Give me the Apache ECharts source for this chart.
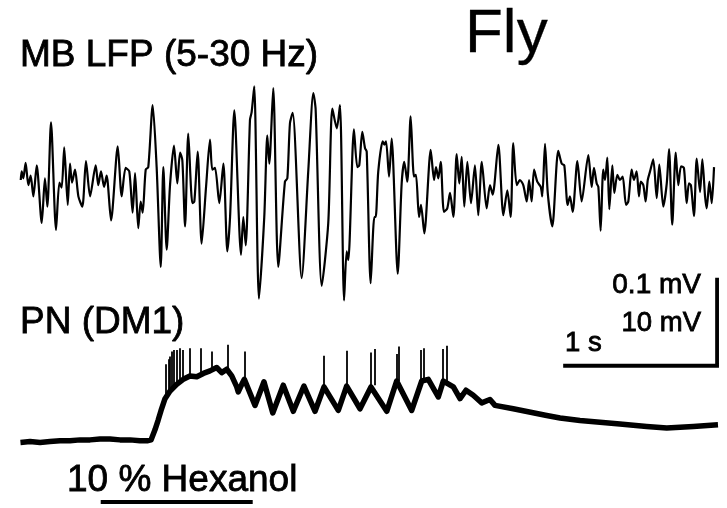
<!DOCTYPE html>
<html>
<head>
<meta charset="utf-8">
<script src="https://cdn.jsdelivr.net/npm/echarts@6/dist/echarts.min.js"></script>
<style>
  html, body { margin: 0; padding: 0; background: #fff; }
  #chart { width: 727px; height: 508px; }
</style>
</head>
<body>
<div id="chart"></div>
<script>
// MB local field potential (5-30 Hz band), time in s, amplitude in µV
const lfpTime = [
  0.005,0.011,0.022,0.037,0.055,0.070,0.088,0.110,0.143,0.164,
  0.180,0.204,0.237,0.259,0.274,0.291,0.314,0.329,0.342,0.362,
  0.384,0.410,0.434,0.461,0.498,0.515,0.533,0.553,0.570,0.599,
  0.643,0.669,0.695,0.719,0.741,0.757,0.778,0.794,0.807,0.827,
  0.844,0.873,0.899,0.926,0.943,0.965,0.987,1.013,1.035,1.053,
  1.068,1.086,1.107,1.134,1.147,1.169,1.195,1.224,1.250,1.265,
  1.283,1.311,1.338,1.364,1.382,1.410,1.454,1.469,1.485,1.513,
  1.524,1.541,1.572,1.607,1.627,1.640,1.666,1.699,1.743,1.759,
  1.776,1.794,1.853,1.897,1.930,1.945,1.985,2.028,2.055,2.084,
  2.105,2.132,2.149,2.160,2.197,2.219,2.232,2.252,2.270,2.281,
  2.307,2.331,2.340,2.357,2.386,2.397,2.408,2.428,2.445,2.485,
  2.511,2.528,2.548,2.570,2.592,2.605,2.625,2.638,2.660,2.702,
  2.724,2.737,2.752,2.768,2.789,2.811,2.829,2.851,2.873,2.890,
  2.906,2.923,2.943,2.967,2.993,3.015,3.038,3.070,3.092,3.110,
  3.147,3.180,3.206,3.228,3.245,3.268,3.289,3.311,3.334,3.349,
  3.366,3.382,3.403,3.426,3.436,3.454,3.472,3.502,3.541,3.564,
  3.581,3.603,3.618,3.636,3.667,3.695,3.739,3.761,3.776,3.794,
  3.805,3.820,3.837,3.849,3.864,3.877,3.897,3.910,3.930,3.947,
  3.965,3.987,4.002,4.024,4.039,4.057,4.072,4.084,4.101,4.116,
  4.130,4.145,4.166,4.189,4.206,4.232,4.255,4.270,4.291,4.314,
  4.331,4.349,4.368,4.386,4.401,4.414,4.434,4.452,4.474,4.489,
  4.507,4.518,4.535,4.551,4.566
];
const lfpUv = [
  0,10,2,20,-6,5,-19,17,-50,2,
  -31,67,-58,-3,-9,38,-29,19,-3,12,
  -19,-31,22,-19,17,-6,10,-8,5,-47,
  39,-19,14,10,-38,8,-56,-25,-38,12,
  15,87,15,-101,15,-81,-6,40,-4,32,
  23,-54,54,-27,-25,33,-74,-8,47,12,
  14,-27,19,-83,-43,81,-87,-43,-76,70,
  79,109,-138,-43,52,19,107,-101,-2,2,
  66,78,-114,12,101,82,-123,-50,83,60,
  87,-140,-83,-93,59,15,17,56,37,33,
  -120,-43,-43,10,45,41,45,4,48,-109,
  -4,21,-2,74,4,6,-43,-29,-62,35,
  0,15,2,21,-37,-33,-15,-43,30,-4,
  27,-31,21,-27,17,-41,21,-33,-6,-17,
  41,-41,-12,-43,43,-6,0,-6,-25,0,
  -25,12,-2,-8,-19,42,-15,-54,34,19,
  17,-29,-19,-37,22,-25,29,-8,14,-4,
  -8,-59,12,0,26,-34,17,-15,6,0,
  4,-29,-25,12,0,10,-19,-2,-6,-25,
  0,10,24,-21,18,-31,-4,36,-52,32,
  -6,16,14,-27,-4,-6,-42,25,-14,24,
  -19,-33,-2,-27,15
];

// PN (DM1) membrane potential without spikes, time in s, mV
const pnTime = [
  0.003,0.066,0.132,0.197,0.263,0.329,0.395,0.461,0.526,0.592,
  0.658,0.724,0.789,0.842,0.862,0.888,0.908,0.928,0.943,0.954,
  0.987,1.031,1.074,1.118,1.163,1.206,1.250,1.294,1.327,1.360,
  1.393,1.426,1.436,1.459,1.476,1.546,1.605,1.663,1.732,1.798,
  1.868,1.941,2.000,2.094,2.149,2.237,2.309,2.413,2.478,2.577,
  2.643,2.686,2.752,2.785,2.851,2.895,2.934,2.982,3.038,3.092,
  3.125,3.245,3.465,3.553,3.684,3.947,4.123,4.255,4.430,4.592
];
const pnMv = [
  -60.2,-60.1,-60.2,-60.1,-60.0,-60.0,-59.9,-59.9,-59.8,-59.8,
  -59.9,-59.9,-60.0,-60.0,-59.9,-58.7,-57.6,-56.4,-55.6,-55.0,
  -54.1,-53.3,-52.7,-52.3,-52.4,-52.0,-51.7,-51.3,-51.9,-51.5,
  -52.3,-53.6,-54.2,-53.3,-52.7,-55.8,-53.0,-56.7,-53.4,-56.5,
  -53.5,-56.5,-53.6,-56.4,-53.5,-56.2,-53.6,-56.5,-52.9,-56.4,
  -52.9,-52.7,-54.8,-52.9,-53.6,-55.0,-54.0,-54.6,-55.5,-55.1,
  -55.8,-56.2,-57.0,-57.3,-57.6,-58.0,-58.3,-58.5,-58.3,-58.1
];

// PN action potentials: time (s), take-off (mV), peak (mV)
const spikeTime = [0.959,0.976,0.987,0.998,1.013,1.031,1.053,1.074,1.114,1.189,1.261,1.364,
  1.476,2.000,2.149,2.309,2.336,2.478,2.495,2.638,2.658,2.783,2.809];
const spikeBase = [-55.0,-54.4,-54.1,-53.8,-53.5,-53.3,-53.0,-52.7,-52.3,-52.2,-51.6,-51.5,
  -52.7,-53.6,-53.5,-53.6,-53.4,-52.9,-52.9,-52.9,-52.8,-52.9,-53.0];
const spikePeak = [-50.9,-50.3,-50.0,-49.4,-49.2,-49.2,-49.0,-49.2,-49.0,-49.0,-49.4,-48.6,
  -49.4,-49.9,-49.3,-49.5,-49.1,-49.7,-48.8,-49.2,-49.0,-49.1,-48.7];

// odour pulse (10 % hexanol), s
const odorOn = 0.531;
const odorOff = 1.531;

// scale bars: 1 s, 0.1 mV (LFP) / 10 mV (PN)
const scaleSec = 1;
const scaleLfpUv = 100;

// layout (px, axis ranges)
const T_MAX = 4.6;
const PLOT_LEFT = 20;
const PX_PER_S = 152;
const SCALE_T0 = 3.586;      // where the time bar starts
const SCALE_LEVEL = -216;    // LFP-axis level of the time bar
const STIM_LEVEL = -67.3;    // PN-axis level of the odour bar
const FONT = '"Liberation Sans", Arial, sans-serif';

const chart = echarts.init(document.getElementById('chart'));

const lfpData = lfpTime.map((t, i) => [t, lfpUv[i]]);
const pnData = pnTime.map((t, i) => [t, pnMv[i]]);
const spikeData = spikeTime.map((t, i) => ({ coords: [[t, spikeBase[i]], [t, spikePeak[i]]] }));

function hiddenX(gi) {
  return { type: 'value', gridIndex: gi, min: 0, max: T_MAX, show: false };
}
function hiddenY(gi, min, max) {
  return { type: 'value', gridIndex: gi, min: min, max: max, show: false };
}
// labels are a bit heavier than plain regular in the figure, so add a thin outline
function label(text, x, y, size, align, weight) {
  return {
    type: 'text', x: x, y: y, z: 10,
    style: {
      text: text, fill: '#000', font: size + 'px ' + FONT,
      align: align || 'left', verticalAlign: 'middle',
      stroke: '#000', lineWidth: weight == null ? 0.8 : weight
    }
  };
}

const option = {
  animation: false,
  backgroundColor: '#fff',
  grid: [
    { left: PLOT_LEFT, width: T_MAX * PX_PER_S, top: 68.2, height: 326.8 },  // LFP: -250..130 µV
    { left: PLOT_LEFT, width: T_MAX * PX_PER_S, top: 339.8, height: 172 }    // PN: -68..-48 mV
  ],
  xAxis: [hiddenX(0), hiddenX(1)],
  yAxis: [hiddenY(0, -250, 130), hiddenY(1, -68, -48)],
  series: [
    {
      name: 'MB LFP', type: 'line', xAxisIndex: 0, yAxisIndex: 0,
      data: lfpData, showSymbol: false, symbol: 'none', clip: false,
      smooth: 0.25,
      lineStyle: { color: '#000', width: 2.2, join: 'round' }
    },
    {
      name: 'PN', type: 'line', xAxisIndex: 1, yAxisIndex: 1,
      data: pnData, showSymbol: false, symbol: 'none', clip: false,
      lineStyle: { color: '#000', width: 5.5, join: 'round' }
    },
    {
      name: 'PN spikes', type: 'lines', coordinateSystem: 'cartesian2d',
      xAxisIndex: 1, yAxisIndex: 1, data: spikeData,
      lineStyle: { color: '#000', width: 1.8, opacity: 1 }
    },
    {
      name: 'odour', type: 'line', xAxisIndex: 1, yAxisIndex: 1,
      data: [[odorOn, STIM_LEVEL], [odorOff, STIM_LEVEL]],
      showSymbol: false, symbol: 'none', clip: false,
      lineStyle: { color: '#000', width: 4, cap: 'butt' }
    },
    {
      name: 'scale', type: 'line', xAxisIndex: 0, yAxisIndex: 0,
      data: [[SCALE_T0, SCALE_LEVEL], [SCALE_T0 + scaleSec, SCALE_LEVEL], [SCALE_T0 + scaleSec, SCALE_LEVEL + scaleLfpUv]],
      showSymbol: false, symbol: 'none', clip: false,
      lineStyle: { color: '#000', width: 3.8, cap: 'square', join: 'miter' }
    }
  ],
  graphic: [
    label('Fly', 465, 34.5, 62, 'left', 0.3),
    label('MB LFP (5-30 Hz)', 20, 55.5, 37),
    label('PN (DM1)', 20, 322.5, 37),
    label('10 % Hexanol', 67, 480.8, 37),
    label('0.1 mV', 701, 284.9, 28, 'right'),
    label('10 mV', 701, 323.9, 27.5, 'right'),
    label('1 s', 565, 343.9, 27.5)
  ]
};

chart.setOption(option);
</script>
</body>
</html>
